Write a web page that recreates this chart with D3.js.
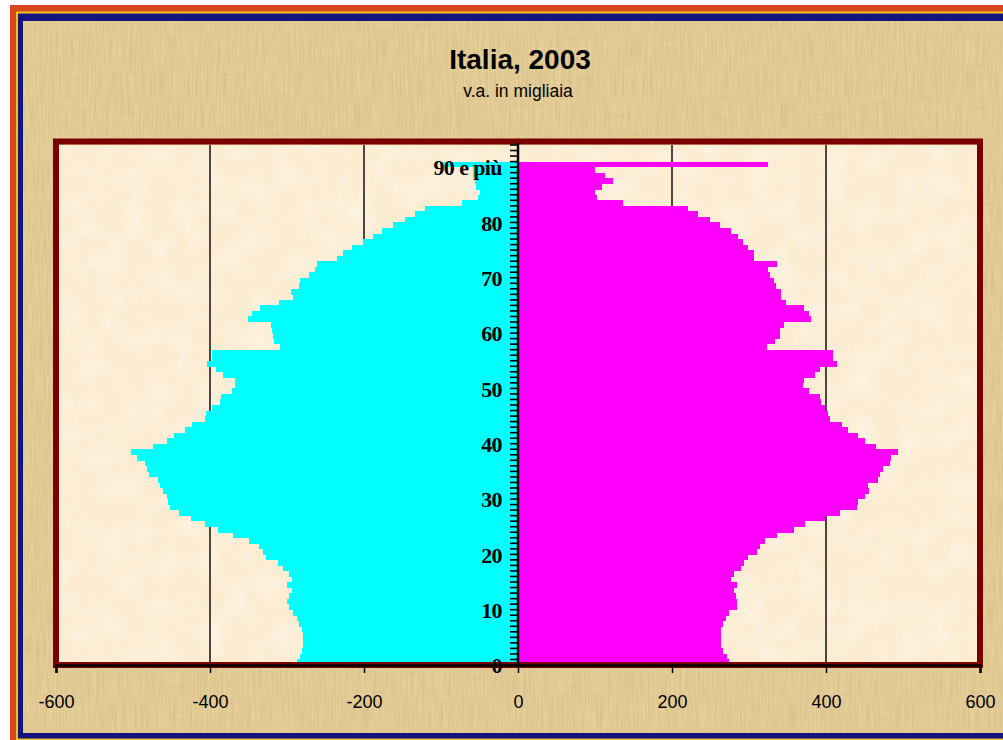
<!DOCTYPE html>
<html>
<head>
<meta charset="utf-8">
<script src="https://cdn.jsdelivr.net/npm/d3@7"></script>
<style>
  body { margin: 0; background: #fff; }
  svg { display: block; }
</style>
</head>
<body>
<div id="chart"></div>
<script>
var width = 1003;
var height = 740;

// popolazione per età singola, migliaia (0 ... 89, 90 e più)
var maschi = [287, 283, 280, 279, 279, 279, 281, 284, 287, 292,
  298, 300, 298, 294, 300, 294, 298, 305, 312, 327,
  331, 337, 349, 370, 389, 406, 425, 440, 452, 454,
  456, 461, 465, 467, 479, 482, 484, 495, 503, 474,
  456, 447, 433, 424, 406, 405, 398, 387, 386, 372,
  368, 368, 383, 392, 404, 397, 397, 309, 317, 318,
  320, 321, 351, 346, 335, 311, 292, 295, 285, 283,
  272, 264, 261, 235, 227, 216, 201, 188, 177, 162,
  147, 134, 121, 73, 52, 49, 54, 56, 58, 58,
  100];
var femmine = [274, 272, 266, 264, 263, 263, 263, 266, 270, 274,
  285, 285, 283, 281, 285, 277, 280, 289, 293, 299,
  310, 314, 321, 336, 358, 373, 399, 418, 440, 442,
  451, 456, 455, 468, 470, 474, 483, 485, 493, 465,
  451, 442, 429, 421, 405, 403, 399, 393, 392, 378,
  370, 372, 386, 392, 414, 409, 409, 323, 334, 340,
  340, 345, 381, 378, 371, 348, 342, 342, 335, 332,
  327, 325, 336, 307, 306, 299, 292, 286, 277, 262,
  249, 234, 221, 137, 102, 100, 109, 124, 113, 100,
  325];

var etaTick = [0, 10, 20, 30, 40, 50, 60, 70, 80, 90];
var etaEtichette = ["0", "10", "20", "30", "40", "50", "60", "70", "80", "90 e più"];
var xTicks = [-600, -400, -200, 0, 200, 400, 600];
var xGriglia = [-400, -200, 200, 400];

var plot = { left: 56, right: 980, top: 145, bottom: 665 };
var nCat = 94; // l'asse ha qualche categoria vuota sopra "90 e più"

var svg = d3.select("#chart").append("svg")
  .attr("width", width)
  .attr("height", height);

var defs = svg.append("defs");
var f = defs.append("filter").attr("id", "papiro")
  .attr("x", 0).attr("y", 0).attr("width", "100%").attr("height", "100%");
f.append("feTurbulence").attr("type", "fractalNoise")
  .attr("baseFrequency", "0.6 0.03").attr("numOctaves", 2).attr("seed", 3);
f.append("feColorMatrix").attr("type", "matrix")
  .attr("values", "0 0 0 0 0.62  0 0 0 0 0.47  0 0 0 0 0.2  0 0 0 -1.1 0.75");
var f2 = defs.append("filter").attr("id", "papiro2")
  .attr("x", 0).attr("y", 0).attr("width", "100%").attr("height", "100%");
f2.append("feTurbulence").attr("type", "fractalNoise")
  .attr("baseFrequency", "0.02 0.5").attr("numOctaves", 2).attr("seed", 7);
f2.append("feColorMatrix").attr("type", "matrix")
  .attr("values", "0 0 0 0 0.65  0 0 0 0 0.5  0 0 0 0 0.25  0 0 0 -1.2 0.75");
var f3 = defs.append("filter").attr("id", "carta")
  .attr("x", 0).attr("y", 0).attr("width", "100%").attr("height", "100%");
f3.append("feTurbulence").attr("type", "fractalNoise")
  .attr("baseFrequency", "0.04").attr("numOctaves", 3).attr("seed", 11);
f3.append("feColorMatrix").attr("type", "matrix")
  .attr("values", "0 0 0 0 1  0 0 0 0 1  0 0 0 0 1  0 0 0 -1.4 0.8");

// cornice esterna
svg.append("rect").attr("x", 10).attr("y", 5).attr("width", 1020).attr("height", 760).attr("fill", "#d8461c");
svg.append("rect").attr("x", 16).attr("y", 11.5).attr("width", 1020).attr("height", 740).attr("fill", "#f2c21a");
svg.append("rect").attr("x", 18).attr("y", 13.5).attr("width", 1020).attr("height", 725).attr("fill", "#14147e");
svg.append("rect").attr("x", 23).attr("y", 21).attr("width", 1000).attr("height", 712).attr("fill", "#e8d09b");
svg.append("rect").attr("x", 23).attr("y", 21).attr("width", 1000).attr("height", 712).attr("filter", "url(#papiro)");
svg.append("rect").attr("x", 23).attr("y", 21).attr("width", 1000).attr("height", 712).attr("filter", "url(#papiro2)").attr("opacity", 0.5);

// titolo
svg.append("text").attr("x", 520).attr("y", 68.5)
  .attr("text-anchor", "middle")
  .style("font-family", "Arial, 'Liberation Sans', sans-serif")
  .style("font-weight", "bold").style("font-size", "28px")
  .text("Italia, 2003");
svg.append("text").attr("x", 518).attr("y", 96.5)
  .attr("text-anchor", "middle")
  .style("font-family", "Arial, 'Liberation Sans', sans-serif")
  .style("font-size", "17.5px")
  .text("v.a. in migliaia");

var x = d3.scaleLinear().domain([-600, 600]).range([plot.left, plot.right]);
var y = d3.scaleBand().domain(d3.range(nCat)).range([plot.bottom, plot.top]).paddingInner(0).paddingOuter(0);

// area del grafico
svg.append("rect").attr("x", plot.left).attr("y", plot.top)
  .attr("width", plot.right - plot.left).attr("height", plot.bottom - plot.top)
  .attr("fill", "#fcecd2");
svg.append("rect").attr("x", plot.left).attr("y", plot.top)
  .attr("width", plot.right - plot.left).attr("height", plot.bottom - plot.top)
  .attr("filter", "url(#carta)").attr("opacity", 0.6);

// griglia
svg.append("g").selectAll("line")
  .data(xGriglia)
  .enter().append("line")
  .attr("x1", d => x(d)).attr("x2", d => x(d))
  .attr("y1", plot.top).attr("y2", plot.bottom)
  .attr("stroke", "#111").attr("stroke-width", 1.5);

// barre
svg.append("g").selectAll("rect")
  .data(maschi)
  .enter().append("rect")
  .attr("x", d => x(-d))
  .attr("y", (d, i) => y(i))
  .attr("width", d => x(0) - x(-d))
  .attr("height", y.bandwidth() + 0.3)
  .attr("fill", "#00ffff")
  .attr("shape-rendering", "crispEdges");
svg.append("g").selectAll("rect")
  .data(femmine)
  .enter().append("rect")
  .attr("x", x(0))
  .attr("y", (d, i) => y(i))
  .attr("width", d => x(d) - x(0))
  .attr("height", y.bandwidth() + 0.3)
  .attr("fill", "#ff00ff")
  .attr("shape-rendering", "crispEdges");

// bordo area
svg.append("rect").attr("x", plot.left).attr("y", plot.top - 3.5)
  .attr("width", plot.right - plot.left).attr("height", plot.bottom - plot.top + 3.5)
  .attr("fill", "none").attr("stroke", "#7a0000").attr("stroke-width", 6);

// asse x
var xAxis = svg.append("g")
  .attr("transform", "translate(0," + plot.bottom + ")")
  .call(d3.axisBottom(x).tickValues(xTicks).tickSize(8).tickPadding(22).tickFormat(d3.format("d")));
xAxis.select(".domain").attr("stroke", "#000").attr("stroke-width", 2.5);
xAxis.selectAll(".tick line").attr("stroke", "#000").attr("stroke-width", 1.5);
xAxis.selectAll("text")
  .style("font-family", "'Liberation Sans Narrow', 'Arial Narrow', Arial, sans-serif")
  .style("font-size", "18px").attr("fill", "#000")
  .text(d => d < 0 ? "-" + Math.abs(d) : d);

// asse y: tacche per ogni categoria
var yAxis = svg.append("g");
yAxis.selectAll("line.tacca")
  .data(d3.range(nCat + 1))
  .enter().append("line")
  .attr("class", "tacca")
  .attr("x1", x(0) - 8).attr("x2", x(0))
  .attr("y1", d => plot.bottom - d * y.step())
  .attr("y2", d => plot.bottom - d * y.step())
  .attr("stroke", "#000").attr("stroke-width", 1.6);
yAxis.append("line")
  .attr("x1", x(0)).attr("x2", x(0))
  .attr("y1", plot.top - 2).attr("y2", plot.bottom)
  .attr("stroke", "#000").attr("stroke-width", 2.5);

var yLab = svg.append("g")
  .attr("transform", "translate(" + x(0) + ",0)")
  .call(d3.axisLeft(y).tickValues(etaTick).tickSize(0).tickPadding(16)
    .tickFormat((d, i) => etaEtichette[i]));
yLab.select(".domain").remove();
yLab.selectAll("text")
  .attr("dy", "0.5em")
  .style("font-family", "'Liberation Serif', 'Times New Roman', serif")
  .style("font-weight", "bold").style("font-size", "22px")
  .style("letter-spacing", "-0.6px")
  .attr("fill", "#000");
</script>
</body>
</html>
